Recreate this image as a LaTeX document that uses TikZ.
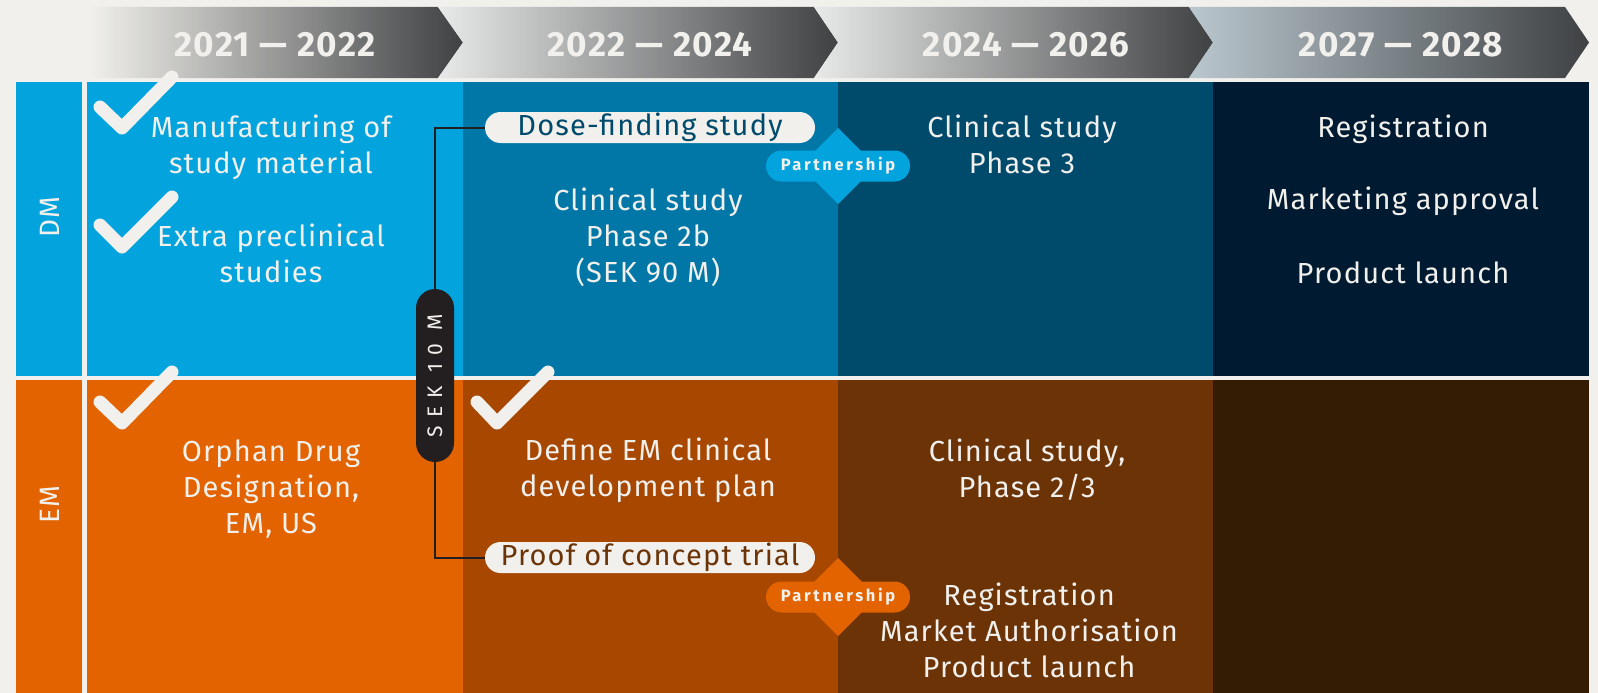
\documentclass[tikz,border=0pt]{standalone}
\usepackage{fontspec}
\setmainfont{Fira Sans}
\definecolor{bg}{HTML}{F1F0EC}
\definecolor{txt}{HTML}{F1F0EC}
\definecolor{blueA}{HTML}{03A3DD}
\definecolor{blueB}{HTML}{0077A7}
\definecolor{blueC}{HTML}{004A6C}
\definecolor{blueD}{HTML}{001B31}
\definecolor{orA}{HTML}{E26300}
\definecolor{orB}{HTML}{A74700}
\definecolor{orC}{HTML}{6B3306}
\definecolor{orD}{HTML}{331B04}
\definecolor{ink}{HTML}{231F20}
\definecolor{arL}{HTML}{E8EAE9}
\definecolor{arM}{HTML}{889DA8}
\definecolor{arR}{HTML}{3F4143}
\definecolor{arL4}{HTML}{B9C7CE}
\begin{document}
\begin{tikzpicture}[x=1pt,y=-1pt,
  celltext/.style={text=txt, align=center, font=\fontsize{29}{36}\selectfont\addfontfeatures{LetterSpace=4}},
  yeartext/.style={text=txt, font=\fontsize{35}{36}\selectfont\bfseries\addfontfeatures{LetterSpace=4}},
  rowlabel/.style={text=txt, rotate=90, font=\fontsize{28}{30}\selectfont\addfontfeatures{LetterSpace=4}},
  pill/.style={fill=bg, minimum width=330pt, minimum height=31pt, rounded corners=15.5pt, inner sep=0pt, font=\fontsize{29}{30}\selectfont\addfontfeatures{LetterSpace=4}},
  partner/.style={minimum width=144pt, minimum height=31pt, rounded corners=15.5pt, inner sep=0pt, text=txt, font=\fontsize{16.5}{17}\selectfont\bfseries\addfontfeatures{LetterSpace=16}},
  sekpill/.style={fill=ink, rotate=90, minimum width=173pt, minimum height=38pt, rounded corners=19pt, inner sep=0pt, text=txt, font=\fontsize{21}{22}\selectfont\addfontfeatures{LetterSpace=38}},
  link/.style={draw=ink, line width=2pt},
  checkmark/.style={draw=txt, line width=13pt, line cap=round, line join=round}]
\useasboundingbox (0,0) rectangle (1598,693);
\fill[bg] (0,0) rectangle (1598,693);
% header arrows
\shade[left color=bg, middle color=arM, right color=arR] (88,7) -- (438,7) -- (463,42.5) -- (438,78) -- (88,78) -- cycle;
\shade[left color=arL, middle color=arM, right color=arR] (438,7) -- (814,7) -- (838,42.5) -- (814,78) -- (438,78) -- (463,42.5) -- cycle;
\shade[left color=arL, middle color=arM, right color=arR] (814,7) -- (1189,7) -- (1213,42.5) -- (1189,78) -- (814,78) -- (838,42.5) -- cycle;
\shade[left color=arL4, middle color=arM, right color=arR] (1189,7) -- (1565,7) -- (1589,42.5) -- (1565,78) -- (1189,78) -- (1213,42.5) -- cycle;
\node[yeartext] (y1) at (275,45) {2021 — 2022};
\node[yeartext] (y2) at (650,45) {2022 — 2024};
\node[yeartext] (y3) at (1026,45) {2024 — 2026};
\node[yeartext] (y4) at (1401,45) {2027 — 2028};
% DM row
\fill[blueA] (16,82) rectangle (82,375.5);
\fill[blueA] (87,82) rectangle (463,375.5);
\fill[blueB] (463,82) rectangle (838,375.5);
\fill[blueC] (838,82) rectangle (1213,375.5);
\fill[blueD] (1213,82) rectangle (1589,375.5);
% EM row
\fill[orA] (16,380) rectangle (82,693);
\fill[orA] (87,380) rectangle (463,693);
\fill[orB] (463,380) rectangle (838,693);
\fill[orC] (838,380) rectangle (1213,693);
\fill[orD] (1213,380) rectangle (1589,693);
% row labels
\node[rowlabel] (dm) at (49.5,217) {DM};
\node[rowlabel] (em) at (49.5,505) {EM};
% cell texts
\node[celltext] (manuf) at (271,147) {Manufacturing of\\study material};
\node[celltext] (extra) at (271,253) {Extra preclinical\\studies};
\node[celltext] (phase2b) at (648,237) {Clinical study\\Phase 2b\\(SEK 90 M)};
\node[celltext] (phase3) at (1022,144) {Clinical study\\Phase 3};
\node[celltext] (reg) at (1403,129) {Registration};
\node[celltext] (mkt) at (1403,201) {Marketing approval};
\node[celltext] (launch) at (1403,273) {Product launch};
\node[celltext] (orphan) at (271,489) {Orphan Drug\\Designation,\\EM, US};
\node[celltext] (define) at (648,470) {Define EM clinical\\development plan};
\node[celltext] (cs23) at (1027,470) {Clinical study,\\Phase 2/3};
\node[celltext] (regem) at (1029,630) {Registration\\Market Authorisation\\Product launch};
% pills and connector
\node[pill, text=blueC] (dose) at (650,127.5) {Dose-finding study};
\node[pill, text=orC] (poc) at (650,557.5) {Proof of concept trial};
\coordinate (bend) at (435,375.5);
\draw[link] (dose.west) -| (bend) |- (poc.west);
\node[sekpill] (sek) at (bend) {SEK 10 M};
% partnership markers
\coordinate (pd) at (838,166);
\fill[blueA] (pd) ++(0,-38) -- ++(38,38) -- ++(-38,38) -- ++(-38,-38) -- cycle;
\node[partner, fill=blueA] (part1) at (pd) {Partnership};
\coordinate (pe) at (838,597);
\fill[orA] (pe) ++(0,-39) -- ++(39,39) -- ++(-39,39) -- ++(-39,-39) -- cycle;
\node[partner, fill=orA] (part2) at (pe) {Partnership};
% check marks
\draw[checkmark] (100,107) -- (122,128) -- (172,77);
\draw[checkmark] (100,225) -- (122,247) -- (172,197);
\draw[checkmark] (100,402) -- (122,423) -- (172,372);
\draw[checkmark] (477,402) -- (497,423) -- (548,372);
\end{tikzpicture}
\end{document}
